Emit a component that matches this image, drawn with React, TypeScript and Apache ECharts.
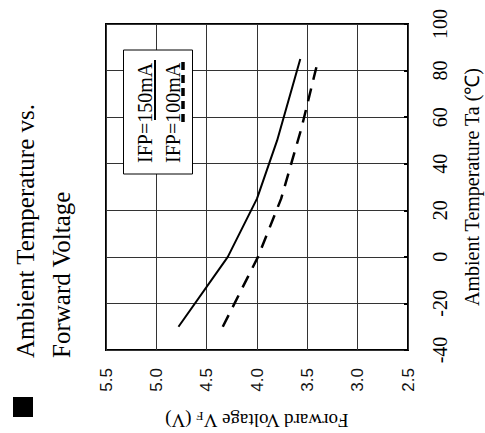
import React, { useEffect, useRef } from "react";
import * as echarts from "echarts";

// Data
const temps150 = [-30, 0, 25, 50, 85];
const vf150 = [4.78, 4.29, 4.0, 3.8, 3.57];
const temps100 = [-30, 0, 25, 55, 85];
const vf100 = [4.34, 3.99, 3.76, 3.56, 3.39];

const titleLines = ["Ambient Temperature vs.", "Forward Voltage"];
const legendLabels = ["IFP=150mA", "IFP=100mA"];
const xName = "Forward Voltage V{sub|F} (V)";
const yName = "Ambient Temperature Ta (℃)";

const SERIF = "Liberation Serif, Times New Roman, serif";
const SANS = "Liberation Sans, Arial, sans-serif";

export default function App() {
  const ref = useRef<HTMLDivElement>(null);
  useEffect(() => {
    if (!ref.current) return;
    document.body.style.margin = "0";
    const chart = echarts.init(ref.current, undefined, { renderer: "svg" });
    const s150 = temps150.map((t, i) => [vf150[i], t]);
    const s100 = temps100.map((t, i) => [vf100[i], t]);
    chart.setOption({
      animation: false,
      backgroundColor: "#fff",
      grid: {
        left: 106,
        top: 24,
        width: 302,
        height: 326,
        containLabel: false,
        outerBoundsMode: "none",
        show: true,
        borderColor: "#000",
        borderWidth: 2,
        backgroundColor: "transparent",
      },
      xAxis: {
        type: "value",
        min: 2.5,
        max: 5.5,
        interval: 0.5,
        inverse: true,
        position: "bottom",
        axisLine: { show: false },
        axisTick: { show: false },
        splitLine: { show: true, lineStyle: { color: "#333", width: 1 } },
        axisLabel: {
          rotate: 90,
          margin: 18,
          fontSize: 17,
          fontFamily: SANS,
          color: "#111",
          formatter: (v: number) => v.toFixed(1),
        },
        name: xName,
        nameLocation: "middle",
        nameRotate: 180,
        nameGap: 60,
        nameTextStyle: {
          fontSize: 19,
          fontFamily: SERIF,
          color: "#000",
          rich: {
            sub: { fontSize: 13, fontFamily: SERIF, color: "#000", verticalAlign: "bottom", padding: [8, 0, 0, 0] },
          },
        },
      },
      yAxis: {
        type: "value",
        min: -40,
        max: 100,
        interval: 20,
        position: "right",
        axisLine: { show: false },
        axisTick: { show: true, inside: true, length: 4, lineStyle: { color: "#000", width: 2 } },
        splitLine: { show: true, lineStyle: { color: "#333", width: 1 } },
        axisLabel: {
          rotate: 90,
          margin: 22,
          fontSize: 20,
          fontFamily: SERIF,
          color: "#000",
        },
        name: yName,
        nameLocation: "middle",
        nameRotate: 90,
        nameGap: 54,
        nameTextStyle: { fontSize: 20, fontFamily: SERIF, color: "#000" },
      },
      series: [
        {
          name: legendLabels[0],
          type: "line",
          data: s150,
          symbol: "none",
          lineStyle: { color: "#000", width: 2 },
        },
        {
          name: legendLabels[1],
          type: "line",
          data: s100,
          symbol: "none",
          lineStyle: { color: "#000", width: 2.5, type: [13, 9] },
        },
      ],
      graphic: [
        { type: "rect", z: 100, shape: { x: 13, y: 397, width: 20, height: 20 }, style: { fill: "#000" } },
        {
          type: "text",
          z: 100,
          x: 25,
          y: 358,
          rotation: Math.PI / 2,
          style: { text: titleLines[0], fontSize: 25, fontFamily: SERIF, fill: "#000", align: "left", verticalAlign: "middle" },
        },
        {
          type: "text",
          z: 100,
          x: 61,
          y: 358,
          rotation: Math.PI / 2,
          style: { text: titleLines[1], fontSize: 25, fontFamily: SERIF, fill: "#000", align: "left", verticalAlign: "middle" },
        },
        {
          type: "rect",
          z: 100,
          shape: { x: 123.5, y: 50, width: 69, height: 124 },
          style: { fill: "#fff", stroke: "#000", lineWidth: 1 },
        },
        {
          type: "text",
          z: 101,
          x: 144.5,
          y: 163,
          rotation: Math.PI / 2,
          style: { text: legendLabels[0], fontSize: 20, fontFamily: SERIF, fill: "#000", align: "left", verticalAlign: "middle" },
        },
        {
          type: "text",
          z: 101,
          x: 172.5,
          y: 163,
          rotation: Math.PI / 2,
          style: { text: legendLabels[1], fontSize: 20, fontFamily: SERIF, fill: "#000", align: "left", verticalAlign: "middle" },
        },
        {
          type: "line",
          z: 101,
          shape: { x1: 155, y1: 60, x2: 155, y2: 120 },
          style: { stroke: "#000", lineWidth: 2 },
        },
        {
          type: "line",
          z: 101,
          shape: { x1: 183, y1: 62, x2: 183, y2: 123 },
          style: { stroke: "#000", lineWidth: 3.5, lineDash: [8, 5] },
        },
      ],
    });
    return () => chart.dispose();
  }, []);
  return <div ref={ref} style={{ position: "fixed", left: 0, top: 0, width: 485, height: 433 }} />;
}
